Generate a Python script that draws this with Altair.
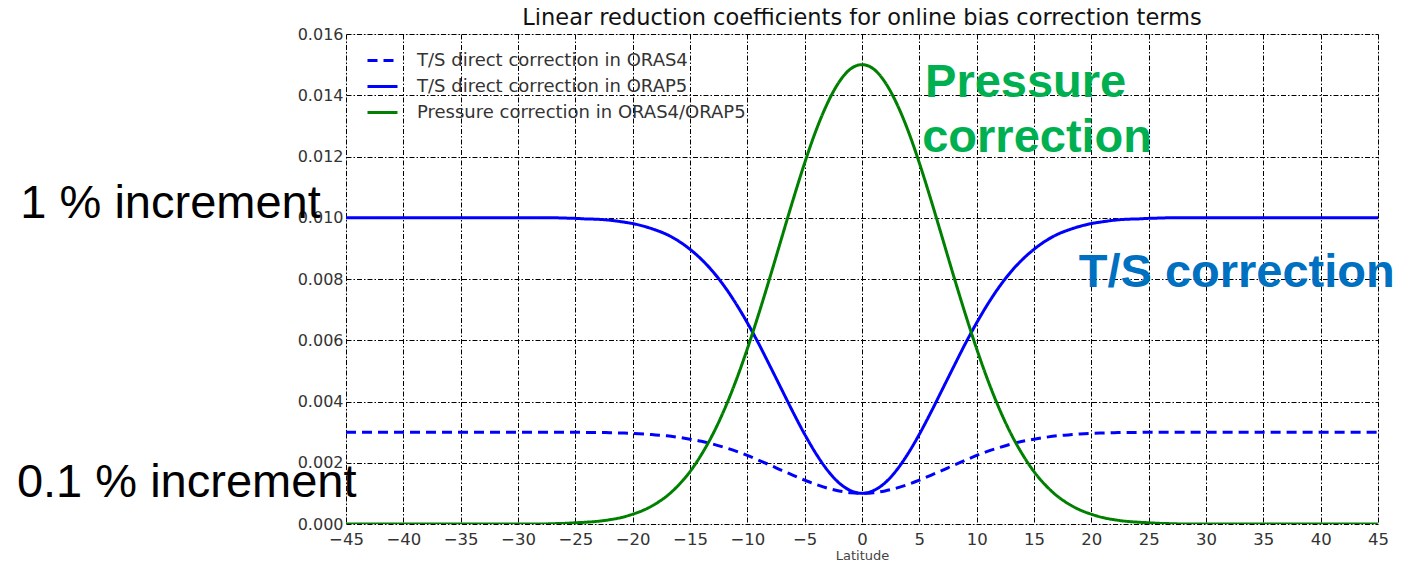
import altair as alt
import pandas as pd

# Half profiles, by absolute latitude (degrees); curves are symmetric
abs_lat = list(range(0, 31)) + [35, 40, 45]

oras4_half = [0.00100, 0.00102, 0.00108, 0.00117, 0.00129, 0.00143, 0.00159, 0.00175, 0.00192,
              0.00208, 0.00224, 0.00238, 0.00250, 0.00261, 0.00270, 0.00277, 0.00283, 0.00288,
              0.00291, 0.00294, 0.00296, 0.00297, 0.00298, 0.00299, 0.00299, 0.00300, 0.00300,
              0.00300, 0.00300, 0.00300, 0.00300, 0.00300, 0.00300, 0.00300]

orap5_half = [0.00100, 0.00109, 0.00134, 0.00175, 0.00229, 0.00293, 0.00364, 0.00439, 0.00514,
              0.00588, 0.00657, 0.00720, 0.00776, 0.00824, 0.00864, 0.00897, 0.00924, 0.00945,
              0.00960, 0.00972, 0.00981, 0.00987, 0.00992, 0.00995, 0.00996, 0.00998, 0.00999,
              0.01000, 0.01000, 0.01000, 0.01000, 0.01000, 0.01000, 0.01000]

pressure_half = [0.01500, 0.01486, 0.01443, 0.01375, 0.01286, 0.01179, 0.01060, 0.00935, 0.00809,
                 0.00687, 0.00572, 0.00467, 0.00374, 0.00294, 0.00227, 0.00171, 0.00127, 0.00092,
                 0.00066, 0.00046, 0.00032, 0.00021, 0.00014, 0.00009, 0.00006, 0.00004, 0.00002,
                 0.00001, 0.0, 0.0, 0.0, 0.0, 0.0, 0.0]

series_names = ["T/S direct correction in ORAS4",
                "T/S direct correction in ORAP5",
                "Pressure correction in ORAS4/ORAP5"]
series_colors = ["#0000ff", "#0000ff", "#008000"]
series_dashes = [[10, 6], [1, 0], [1, 0]]

x_ticks = list(range(-45, 50, 5))
y_ticks = [0.000, 0.002, 0.004, 0.006, 0.008, 0.010, 0.012, 0.014, 0.016]

# Annotations (text, latitude, value)
plain_text = ["1 % increment", "0.1 % increment"]
plain_lat = [-73.4, -73.7]
plain_val = [0.00999, 0.00088]

bold_text = ["Pressure", "correction", "T/S correction"]
bold_lat = [5.5, 5.25, 18.9]
bold_val = [0.01394, 0.01215, 0.00774]
bold_color = ["#00b050", "#00b050", "#0070c0"]

lat_full = [-a for a in abs_lat[::-1]] + abs_lat[1:]
rows = []
for name, half in zip(series_names, [oras4_half, orap5_half, pressure_half]):
    vals = half[::-1] + half[1:]
    for la, v in zip(lat_full, vals):
        rows.append({"lat": la, "value": v, "series": name})
df = pd.DataFrame(rows)

xscale = alt.Scale(domain=[-45, 45], nice=False, zero=False)
yscale = alt.Scale(domain=[0, 0.016], nice=False)

grid_dash = [5, 2, 1.5, 2]

lines = alt.Chart(df).mark_line(strokeWidth=3, interpolate="monotone", clip=True).encode(
    x=alt.X("lat:Q", scale=xscale,
            axis=alt.Axis(values=x_ticks, title="Latitude", grid=True, gridColor="black",
                          gridDash=grid_dash, gridWidth=1, gridOpacity=1,
                          labelExpr="replace(datum.label, '-', '\u2212')",
                          labelFlush=False, labelOverlap=False, ticks=False, domain=False,
                          labelFont="DejaVu Sans", labelFontSize=16.5, labelColor="#333333",
                          labelPadding=7, titleFont="DejaVu Sans", titleFontSize=13,
                          titleFontWeight="normal", titleColor="#444444",
                          titleY=35, titleBaseline="alphabetic")),
    y=alt.Y("value:Q", scale=yscale,
            axis=alt.Axis(values=y_ticks, format=".3f", title=None, grid=True,
                          gridColor="black", gridDash=grid_dash, gridWidth=1, gridOpacity=1,
                          labelFlush=False, labelOverlap=False, ticks=False, domain=False,
                          labelFont="DejaVu Sans", labelFontSize=16, labelColor="#333333",
                          labelPadding=3)),
    color=alt.Color("series:N",
                    scale=alt.Scale(domain=series_names, range=series_colors),
                    legend=alt.Legend(title=None, orient="none", legendX=20, legendY=10,
                                      symbolType="stroke", symbolSize=900,
                                      symbolStrokeWidth=3, labelFont="DejaVu Sans",
                                      labelFontSize=18, labelColor="#333333", labelLimit=500,
                                      labelOffset=18, rowPadding=0, padding=0)),
    strokeDash=alt.StrokeDash("series:N",
                              scale=alt.Scale(domain=series_names, range=series_dashes),
                              legend=None),
    order=alt.Order("lat:Q"),
)

plain_df = pd.DataFrame({"text": plain_text, "lat": plain_lat, "value": plain_val})
bold_df = pd.DataFrame({"text": bold_text, "lat": bold_lat, "value": bold_val,
                        "color": bold_color})

plain = alt.Chart(plain_df).mark_text(align="left", baseline="alphabetic",
                                      font="Liberation Sans", fontSize=47,
                                      color="black").encode(
    x=alt.X("lat:Q", scale=xscale), y=alt.Y("value:Q", scale=yscale), text="text:N")

bold = alt.Chart(bold_df).mark_text(align="left", baseline="alphabetic",
                                    font="Liberation Sans", fontSize=47,
                                    fontWeight="bold").encode(
    x=alt.X("lat:Q", scale=xscale), y=alt.Y("value:Q", scale=yscale), text="text:N",
    color=alt.Color("color:N", scale=None))

chart = alt.layer(lines, plain, bold).properties(
    width=1032, height=490,
    title=alt.TitleParams("Linear reduction coefficients for online bias correction terms",
                          font="DejaVu Sans", fontSize=22.5, fontWeight="normal",
                          color="#111111", anchor="middle", offset=1, dy=4),
    autosize=alt.AutoSizeParams(type="none"),
    padding={"left": 338, "top": 26, "right": 16, "bottom": 37},
).configure_view(stroke="black", strokeWidth=1.5).configure(background="white")

chart.save("out.html", embed_options={"renderer": "svg", "actions": False})
